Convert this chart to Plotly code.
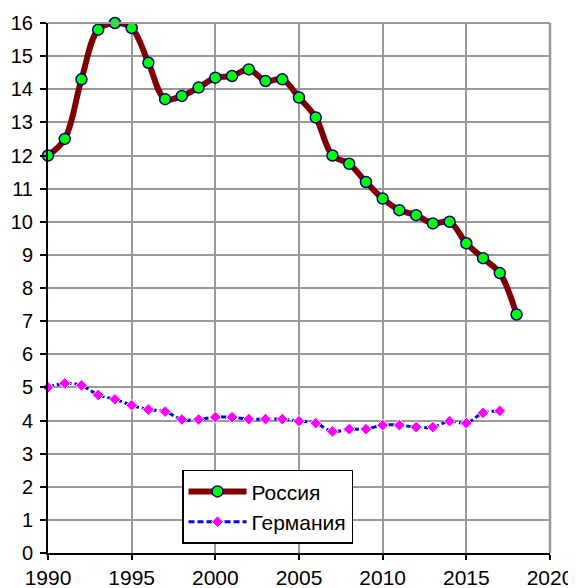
import plotly.graph_objects as go

years_ru = list(range(1990, 2019))
russia = [12.0, 12.5, 14.3, 15.8, 16.0, 15.85, 14.8, 13.7, 13.8, 14.05, 14.35, 14.4, 14.6,
          14.25, 14.3, 13.75, 13.15, 12.0, 11.75, 11.2, 10.7, 10.35, 10.2, 9.95, 10.0,
          9.35, 8.9, 8.45, 7.2]

years_de = list(range(1990, 2018))
germany = [5.0, 5.12, 5.06, 4.77, 4.64, 4.46, 4.33, 4.27, 4.03, 4.03, 4.1, 4.1, 4.04,
           4.04, 4.04, 3.98, 3.92, 3.67, 3.74, 3.74, 3.86, 3.86, 3.8, 3.8, 3.98,
           3.92, 4.23, 4.29]

fig = go.Figure()

fig.add_trace(go.Scatter(
    x=years_ru, y=russia, name="Россия",
    mode="lines+markers", cliponaxis=False,
    line=dict(color="#800000", width=6, shape="spline", smoothing=1.0),
    marker=dict(color="#00ff00", size=11, line=dict(color="#000080", width=1.5)),
))

fig.add_trace(go.Scatter(
    x=years_de, y=germany, name="Германия",
    mode="lines+markers", cliponaxis=False,
    line=dict(color="#0000ff", width=3, dash="6px,3px", shape="spline", smoothing=1.0),
    marker=dict(color="#ff00ff", size=9, symbol="diamond",
                line=dict(color="white", width=1)),
))

grid = "#999999"
# the page body adds 8px on the left and top, so the figure is shrunk to fit
fig.update_layout(
    width=568, height=580,
    margin=dict(l=40, r=26, t=15, b=35),
    paper_bgcolor="white", plot_bgcolor="white",
    font=dict(family="Liberation Sans, Arial, sans-serif", size=21, color="black"),
    showlegend=True,
    legend=dict(
        x=0.267, y=0.157, xanchor="left", yanchor="top",
        bordercolor="black", borderwidth=1.5, bgcolor="white",
        font=dict(size=21), tracegroupgap=0, itemwidth=58,
    ),
    xaxis=dict(
        range=[1990, 2020], tickvals=list(range(1990, 2021, 5)), automargin=False,
        showgrid=True, gridcolor=grid, gridwidth=2,
        showline=True, linecolor="black", linewidth=2, mirror=False,
        ticks="outside", ticklen=5, tickcolor="black", tickwidth=2,
        zeroline=False,
    ),
    yaxis=dict(
        range=[0, 16], dtick=1, automargin=False,
        showgrid=True, gridcolor=grid, gridwidth=2,
        showline=True, linecolor="black", linewidth=2,
        ticks="outside", ticklen=6, tickcolor="black", tickwidth=2,
        ticklabelstandoff=3, tickfont=dict(size=20),
        zeroline=False,
    ),
    shapes=[
        dict(type="line", xref="paper", yref="paper", x0=1, x1=1, y0=0, y1=1,
             line=dict(color=grid, width=2.5)),
        dict(type="line", xref="paper", yref="paper", x0=0, x1=1, y0=1, y1=1,
             line=dict(color=grid, width=2)),
    ],
)

fig.write_html("out.html")
